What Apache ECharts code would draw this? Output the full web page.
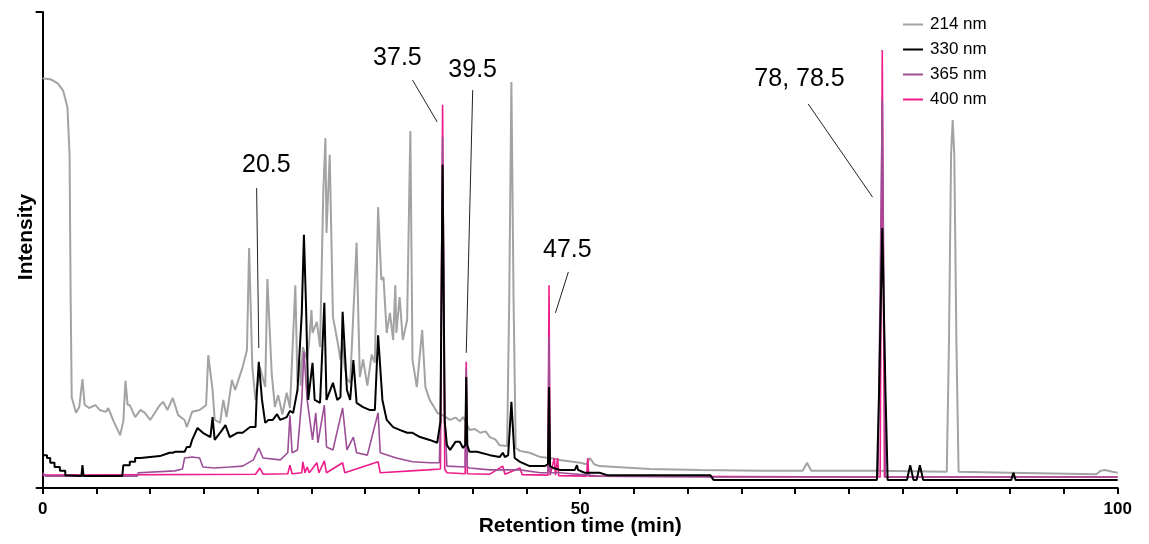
<!DOCTYPE html>
<html>
<head>
<meta charset="utf-8">
<script src="https://cdn.jsdelivr.net/npm/echarts@6/dist/echarts.min.js"></script>
<style>
  html, body { margin: 0; padding: 0; background: #fff; }
  #chart { width: 1149px; height: 544px; }
</style>
</head>
<body>
<div id="chart"></div>
<script>
// retention time (min), intensity (0-100 of the axis height)
var trace214 = [
  [0, 86.1], [0.8, 85.8], [1.4, 85.0], [1.9, 83.5], [2.3, 80], [2.5, 70], [2.6, 40], [2.7, 19.0],
  [3.1, 15.8], [3.4, 17], [3.7, 22.9], [3.9, 17.5], [4.3, 16.8], [4.9, 17.4], [5.3, 16.4], [5.9, 16.0],
  [6.1, 16.8], [6.6, 14], [7.2, 11.1], [7.5, 14], [7.7, 22.5], [7.9, 17.5], [8.1, 17.4], [8.6, 14.9],
  [9.1, 16.4], [9.5, 15.8], [10.0, 14.3], [10.6, 16.4], [10.9, 17.4], [11.2, 18.1], [11.6, 16.4],
  [12.1, 18.9], [12.6, 15.3], [13.2, 14.3], [13.4, 12.8], [13.9, 16.0], [14.6, 16.4], [15.2, 17.4],
  [15.4, 27.9], [15.8, 20.6], [16.0, 14.3], [16.5, 13.7], [16.8, 18.5], [17.1, 14.9], [17.6, 22.7],
  [17.9, 20.6], [18.6, 25.4], [19.0, 29.0], [19.2, 50.4], [19.5, 25.4], [19.8, 18.5], [20.2, 25.4],
  [20.7, 21.2], [20.9, 43.9], [21.3, 24.2], [21.6, 17.0], [21.9, 19.5], [22.3, 15.5], [22.7, 20.0],
  [23.0, 16.8], [23.5, 42.6], [23.7, 22.1], [23.9, 27.0], [24.0, 21.5], [24.2, 29.6], [24.6, 26.9],
  [24.8, 31.0], [25.0, 37.4], [25.1, 32.6], [25.5, 34.9], [25.8, 29.6], [26.1, 62.0], [26.3, 73.5],
  [26.4, 53.6], [26.7, 70.0], [27.0, 35.9], [27.4, 31.1], [27.7, 26.9], [27.9, 30.5], [28.1, 25.4],
  [28.3, 23.0], [28.6, 22.1], [29.2, 51.5], [29.5, 23.3], [29.8, 27.0], [30.2, 21.5], [30.6, 28.0],
  [30.9, 26.3], [31.2, 59.0], [31.5, 43.7], [31.7, 44.3], [32.0, 32.6], [32.3, 36.8], [32.6, 31.1],
  [32.8, 42.6], [32.9, 32.6], [33.2, 40.1], [33.5, 31.1], [33.9, 35.3], [34.2, 75.0], [34.4, 26.9],
  [34.8, 21.2], [35.3, 33.2], [35.6, 21.2], [36.0, 18.5], [36.4, 17.0], [36.7, 15.8], [37.2, 15.3],
  [37.9, 14.3], [38.4, 14.8], [38.8, 14.0], [39.1, 14.9], [39.4, 13.7], [39.7, 12.2], [40.2, 12.4],
  [40.7, 11.6], [41.2, 11.9], [41.6, 10.7], [42.1, 10.2], [42.5, 9.0], [43.2, 8.8], [43.4, 40],
  [43.6, 85.3], [43.8, 40], [44.0, 8.4], [44.4, 7.8], [45.3, 7.4], [46.3, 6.5], [47.2, 6.3], [48.1, 5.9],
  [50.0, 5.3], [50.6, 5.0], [50.9, 6.3], [51.3, 5.0], [51.8, 4.6], [56.5, 4.0], [61.1, 3.8], [66.7, 3.6],
  [70.7, 3.6], [71.1, 5.3], [71.5, 3.6], [77.5, 3.6], [84.1, 3.4], [84.3, 30], [84.5, 70], [84.65, 77.3],
  [84.8, 70], [85.0, 30], [85.2, 3.4], [90.0, 3.2], [98.0, 2.9], [98.4, 3.6], [98.8, 3.8], [99.5, 3.4],
  [100, 3.2]
];

var trace330 = [
  [0, 6.9], [0.4, 6.9], [0.4, 6.3], [0.7, 6.3], [0.7, 5.3], [1.1, 5.3], [1.1, 4.4], [1.6, 4.4], [1.6, 3.6],
  [2.1, 3.6], [2.1, 2.7], [3.6, 2.5], [3.7, 4.8], [3.8, 2.5], [7.4, 2.5], [7.5, 4.8], [8.1, 4.8], [8.1, 5.5],
  [8.6, 5.5], [8.6, 6.3], [9.1, 6.3], [9.1, 6.7], [10.9, 6.7], [11.8, 7.4], [12.1, 7.4], [12.3, 7.6],
  [13.2, 7.6], [13.4, 8.6], [13.7, 8.6], [13.9, 10.1], [14.4, 12.6], [14.9, 11.6], [15.6, 10.7],
  [15.8, 14.9], [16.0, 10.1], [16.7, 12.2], [17.0, 13.2], [17.4, 10.7], [18.1, 11.6], [18.6, 11.6],
  [19.3, 12.8], [19.8, 12.8], [19.9, 19.1], [20.1, 26.5], [20.4, 18.5], [20.7, 13.7], [21.0, 14.3],
  [21.4, 14.3], [21.8, 15.5], [22.1, 14.3], [22.7, 14.9], [23.0, 16.2], [23.3, 15.8], [23.7, 20.6],
  [24.1, 36.8], [24.3, 53.2], [24.5, 38.0], [24.7, 18.5], [25.1, 26.3], [25.3, 18.5], [25.8, 17.9],
  [26.2, 38.9], [26.4, 18.5], [27.0, 22.1], [27.4, 18.5], [27.7, 19.1], [27.9, 37.0], [28.3, 20.6],
  [28.6, 18.5], [28.9, 26.9], [29.2, 17.9], [29.8, 17.0], [30.4, 16.4], [30.9, 16.4], [31.2, 32.1],
  [31.6, 18.5], [32.0, 14.3], [32.6, 12.8], [33.2, 12.2], [33.9, 11.6], [34.4, 11.6], [35.1, 10.7],
  [36.0, 10.1], [36.7, 9.5], [37.0, 14], [37.2, 67.9], [37.4, 14], [37.6, 9.0], [37.9, 8.0], [38.4, 9.7],
  [38.8, 9.7], [39.1, 8.4], [39.3, 9.0], [39.4, 23.3], [39.5, 9.0], [39.7, 7.6], [40.4, 7.6], [41.6, 6.9],
  [42.5, 6.5], [42.8, 7.4], [43.0, 6.5], [43.3, 6.9], [43.6, 18.1], [43.9, 6.3], [44.4, 5.5], [45.3, 4.6],
  [46.7, 4.6], [47.0, 5.0], [47.1, 21.2], [47.2, 4.6], [47.5, 4.2], [48.1, 3.8], [49.5, 3.8], [49.7, 4.8],
  [49.8, 3.8], [50.4, 3.2], [51.8, 3.2], [52.5, 2.7], [62.1, 2.7], [62.4, 1.7], [77.6, 1.7], [77.8, 20],
  [78.1, 54.6], [78.4, 20], [78.6, 1.7], [80.4, 1.7], [80.7, 4.8], [81.0, 1.7], [81.3, 1.7], [81.6, 4.8],
  [81.9, 1.7], [90.1, 1.7], [90.3, 3.2], [90.5, 1.7], [100, 1.7]
];

var trace365 = [
  [0, 3.2], [0.3, 2.5], [8.8, 2.5], [8.9, 3.2], [12.3, 3.6], [13.0, 4.0], [13.2, 6.3], [13.9, 6.5],
  [14.6, 6.3], [14.9, 4.4], [16.0, 4.2], [17.4, 4.4], [18.6, 4.6], [19.6, 5.9], [20.1, 8.4], [20.5, 6.3],
  [22.1, 5.9], [22.8, 7.4], [23.0, 15.3], [23.2, 7.4], [23.7, 8.0], [24.1, 18.5], [24.3, 28.6],
  [24.6, 18.5], [25.1, 10.1], [25.4, 15.8], [25.6, 9.5], [26.2, 17.4], [26.4, 8.6], [27.0, 8.0],
  [27.9, 16.8], [28.3, 8.0], [28.9, 10.7], [29.2, 7.4], [30.2, 6.9], [31.2, 15.8], [31.4, 7.4],
  [32.9, 6.3], [34.4, 5.5], [36.0, 5.3], [36.9, 5.3], [37.0, 15], [37.2, 73.7], [37.4, 15], [37.6, 4.6],
  [39.3, 4.4], [39.4, 25.0], [39.5, 4.4], [39.7, 4.2], [41.6, 3.8], [44.4, 3.8], [46.3, 3.2], [47.0, 3.2],
  [47.1, 31.7], [47.2, 3.2], [48.1, 3.2], [51.8, 2.5], [63.0, 2.3], [77.7, 2.3], [78.1, 81.5], [78.4, 2.3],
  [100, 2.3]
];

var trace400 = [
  [0, 2.7], [19.8, 2.9], [20.2, 4.2], [20.5, 2.9], [22.8, 3.0], [23.0, 4.8], [23.2, 3.0], [24.1, 3.2],
  [24.2, 5.5], [24.4, 3.2], [24.6, 4.4], [24.8, 3.2], [25.5, 5.3], [25.7, 3.2], [26.2, 5.7], [26.4, 3.2],
  [27.9, 5.3], [28.1, 3.2], [31.2, 5.5], [31.4, 3.2], [35.8, 3.8], [37.0, 4], [37.2, 80.5], [37.4, 4],
  [37.6, 3.2], [39.3, 3.0], [39.4, 26.5], [39.5, 3.0], [41.6, 2.9], [42.8, 4.6], [43.0, 2.9], [44.4, 4.2],
  [44.6, 2.8], [47.0, 2.7], [47.1, 42.6], [47.2, 2.7], [47.6, 6.3], [47.7, 2.7], [47.9, 6.3], [48.0, 2.6],
  [50.6, 2.5], [50.7, 6.3], [50.8, 2.5], [77.9, 2.3], [78.1, 92.0], [78.3, 2.3], [100, 2.3]
];

var seriesNames = ["214 nm", "330 nm", "365 nm", "400 nm"];
var seriesData = [trace214, trace330, trace365, trace400];

// peak annotations: text position and leader line ends, in data units
var annoText = ["20.5", "37.5", "39.5", "47.5", "78, 78.5"];
var annoLabelAt = [[20.8, 67.9], [33.0, 90.3], [40.0, 87.8], [48.8, 50.0], [70.4, 85.9]];
var annoLineFrom = [[19.9, 63.0], [34.4, 85.7], [40.0, 83.6], [48.9, 45.4], [71.2, 80.7]];
var annoLineTo = [[20.1, 29.4], [36.7, 76.9], [39.4, 28.4], [47.7, 36.8], [77.2, 61.1]];

var colors = ["#a3a3a3", "#000000", "#9c4f97", "#ee1c8a"];
var zOrder = [1, 4, 3, 2];
var widths = [2, 2, 1.6, 1.6];
var FONT = "Liberation Sans, Arial, sans-serif";

var myChart = echarts.init(document.getElementById("chart"), null, { renderer: "canvas" });

var series = seriesNames.map(function (name, i) {
  return {
    name: name,
    type: "line",
    data: seriesData[i],
    symbol: "none",
    z: zOrder[i],
    color: colors[i],
    lineStyle: { width: widths[i], color: colors[i] },
  };
});

series.push({
  name: "leaders",
  type: "lines",
  coordinateSystem: "cartesian2d",
  silent: true,
  z: 5,
  lineStyle: { color: "#222", width: 1, opacity: 1 },
  data: annoLineFrom.map(function (p, i) {
    return { coords: [p, annoLineTo[i]] };
  }),
});

series.push({
  name: "labels",
  type: "scatter",
  silent: true,
  z: 6,
  symbolSize: 0,
  itemStyle: { color: "#000" },
  label: {
    show: true,
    position: "inside",
    formatter: "{b}",
    fontSize: 25,
    fontFamily: FONT,
    color: "#000",
    opacity: 1,
  },
  data: annoText.map(function (t, i) {
    return { name: t, value: annoLabelAt[i] };
  }),
});

var option = {
  animation: false,
  backgroundColor: "#fff",
  grid: {
    left: 42.7,
    right: 31.3,
    top: 12,
    bottom: 56,
    containLabel: false,
    outerBoundsMode: "none",
  },
  legend: {
    data: seriesNames,
    orient: "vertical",
    left: 898,
    top: 11,
    icon: "rect",
    itemWidth: 20,
    itemHeight: 2,
    itemGap: 8,
    textStyle: {
      fontSize: 17,
      fontFamily: FONT,
      color: "#000",
      padding: [0, 0, 0, 2],
    },
  },
  xAxis: {
    type: "value",
    min: 0,
    max: 100,
    interval: 5,
    name: "Retention time (min)",
    nameLocation: "middle",
    nameGap: 28,
    nameMoveOverlap: false,
    nameTextStyle: { fontSize: 21, fontWeight: "bold", fontFamily: FONT, color: "#000" },
    axisLine: { show: true, lineStyle: { color: "#000", width: 2 } },
    axisTick: { show: true, length: 6, lineStyle: { color: "#000", width: 2 } },
    splitLine: { show: false },
    axisLabel: {
      margin: 13,
      fontSize: 17,
      fontWeight: "bold",
      fontFamily: FONT,
      color: "#000",
      formatter: function (value) {
        return value % 50 === 0 ? String(value) : "";
      },
    },
  },
  yAxis: {
    type: "value",
    min: 0,
    max: 100,
    interval: 100,
    name: "Intensity",
    nameLocation: "middle",
    nameGap: 6,
    nameMoveOverlap: false,
    nameTextStyle: {
      fontSize: 21,
      fontWeight: "bold",
      fontFamily: FONT,
      color: "#000",
      padding: [0, 0, 0, 26],
    },
    axisLine: { show: true, lineStyle: { color: "#000", width: 2 } },
    axisTick: { show: true, length: 7, lineStyle: { color: "#000", width: 2 } },
    axisLabel: { show: false },
    splitLine: { show: false },
  },
  series: series,
};

myChart.setOption(option);
</script>
</body>
</html>
